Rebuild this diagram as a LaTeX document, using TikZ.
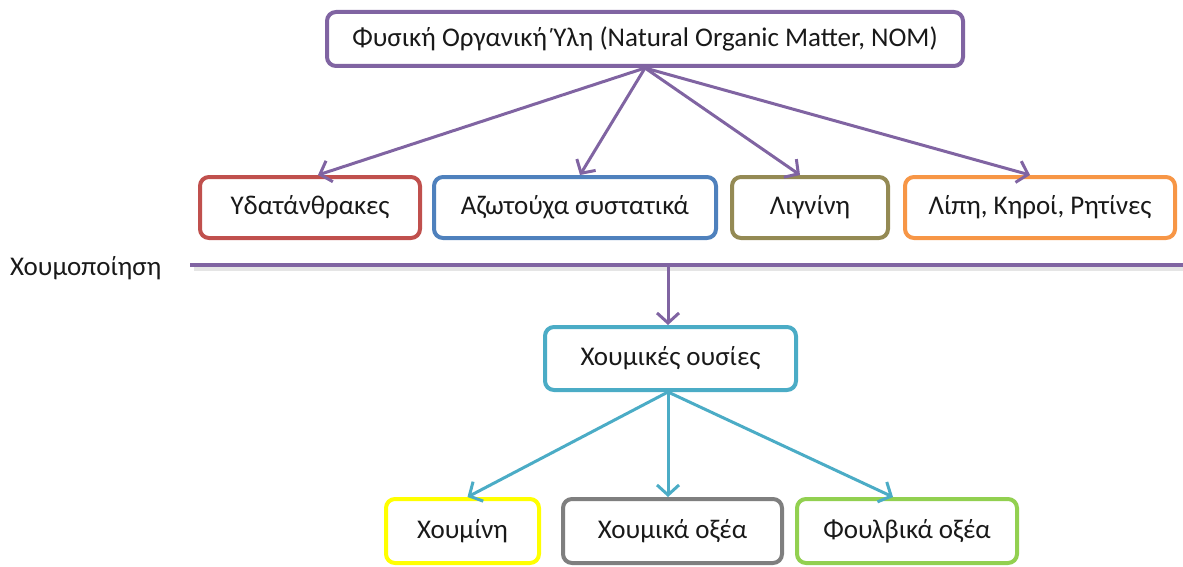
\documentclass[tikz,border=0pt]{standalone}
\usepackage{fontspec}
\setmainfont{Carlito}
\usetikzlibrary{arrows.meta,calc}
\definecolor{nomPurple}{HTML}{8064A2}
\definecolor{carbRed}{HTML}{C0504D}
\definecolor{nitroBlue}{HTML}{4F81BD}
\definecolor{ligOlive}{HTML}{948A54}
\definecolor{lipOrange}{HTML}{F79646}
\definecolor{humCyan}{HTML}{4BACC6}
\definecolor{huminYellow}{HTML}{FFFF00}
\definecolor{acidGray}{HTML}{7F7F7F}
\definecolor{fulvGreen}{HTML}{92D050}
\begin{document}
\begin{tikzpicture}[x=1pt,y=-1pt,
  box/.style={draw, line width=4pt, rounded corners=9pt, fill=white, inner sep=0pt,
    font=\fontsize{27}{31}\selectfont, text=black!90},
  link/.style={line width=3pt, -{Straight Barb[length=10pt,width=22pt]}},
  label/.style={font=\fontsize{27}{31}\selectfont, text=black!90, inner sep=0pt}]
\useasboundingbox (0,0) rectangle (1183,567);

% source node
\node[box, draw=nomPurple, minimum width=636pt, minimum height=54pt] (nom) at (645,39)
  {Φυσική Οργανική Ύλη (Natural Organic Matter, NOM)};

% main components
\node[box, draw=carbRed,   minimum width=220pt, minimum height=61pt] (carb)  at (310,207.5) {Υδατάνθρακες};
\node[box, draw=nitroBlue, minimum width=282pt, minimum height=61pt] (nitro) at (575,207.5) {Αζωτούχα συστατικά};
\node[box, draw=ligOlive,  minimum width=156pt, minimum height=61pt] (lig)   at (810,207.5) {Λιγνίνη};
\node[box, draw=lipOrange, minimum width=270pt, minimum height=61pt] (lip)   at (1040,207.5) {Λίπη, Κηροί, Ρητίνες};

\draw[link, draw=nomPurple] (nom.south) -- ($(carb.north)+(8,0)$);
\draw[link, draw=nomPurple] (nom.south) -- ($(nitro.north)+(5,0)$);
\draw[link, draw=nomPurple] (nom.south) -- ($(lig.north)+(-10,0)$);
\draw[link, draw=nomPurple] (nom.south) -- ($(lip.north)+(-10,0)$);

% humification divider
\coordinate (hlA) at (190,265);
\coordinate (hlB) at (1183,265);
\coordinate (hlC) at (668,265);
\draw[line width=4pt, black, opacity=0.10] ($(hlA)+(4,3.5)$) -- ($(hlB)+(0,3.5)$);
\draw[line width=4pt, nomPurple] (hlA) -- (hlB);
\node[label, anchor=west] (humif) at (10,268) {Χουμοποίηση};

% humic substances
\node[box, draw=humCyan, minimum width=251pt, minimum height=63pt] (hum) at (670.5,358.5) {Χουμικές ουσίες};
\draw[link, draw=nomPurple] (hlC) -- (hlC |- hum.north);

% fractions
\node[box, draw=huminYellow, minimum width=153pt, minimum height=64pt] (humin) at (462.5,531) {Χουμίνη};
\node[box, draw=acidGray,    minimum width=219pt, minimum height=64pt] (hacid) at (672.5,531) {Χουμικά οξέα};
\node[box, draw=fulvGreen,   minimum width=220pt, minimum height=64pt] (facid) at (907,531) {Φουλβικά οξέα};

\coordinate (humB) at (668,392);
\draw[link, draw=humCyan] (humB) -- ($(humin.north)+(5,0)$);
\draw[link, draw=humCyan] (humB) -- (humB |- hacid.north);
\draw[link, draw=humCyan] (humB) -- ($(facid.north)+(-14,0)$);
\end{tikzpicture}
\end{document}
